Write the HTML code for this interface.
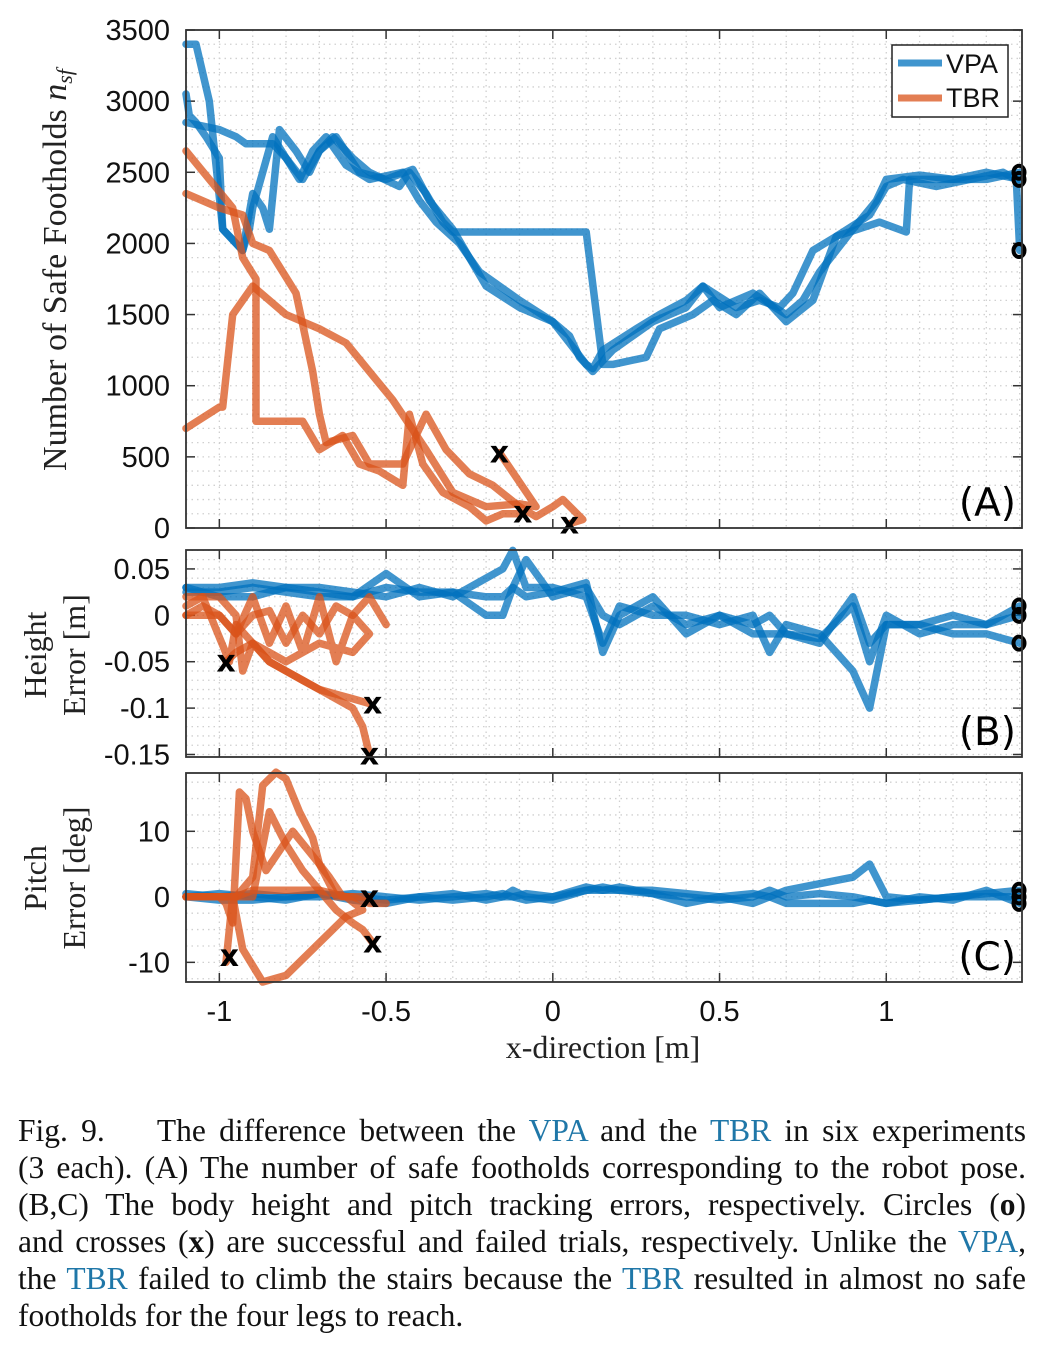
<!DOCTYPE html>
<html><head><meta charset="utf-8">
<style>
body{margin:0;background:#fff;width:1059px;height:1350px;overflow:hidden;position:relative}
svg{position:absolute;left:0;top:0}
#cap{position:absolute;left:18px;top:1112px;width:1008px;font-family:"Liberation Serif",serif;font-size:31.5px;line-height:37px;color:#111}
#cap div{text-align:justify;text-align-last:justify;white-space:nowrap}
#cap div.last{text-align-last:left}
#cap .c{color:#1f77a8}
</style></head><body>
<svg id="chart" width="1059" height="1100" xmlns="http://www.w3.org/2000/svg"></svg>
<div id="cap">
<div>Fig. 9.&nbsp;&nbsp;&nbsp; The difference between the <span class="c">VPA</span> and the <span class="c">TBR</span> in six experiments</div>
<div>(3 each). (A) The number of safe footholds corresponding to the robot pose.</div>
<div>(B,C) The body height and pitch tracking errors, respectively. Circles (<b>o</b>)</div>
<div>and crosses (<b>x</b>) are successful and failed trials, respectively. Unlike the <span class="c">VPA</span>,</div>
<div>the <span class="c">TBR</span> failed to climb the stairs because the <span class="c">TBR</span> resulted in almost no safe</div>
<div class="last">footholds for the four legs to reach.</div>
</div>
<script>
// ---- Panel A data ----
const vpaA1x=[-1.1,-1.07,-1.03,-0.99,-0.93,-0.91,-0.9,-0.87,-0.84,-0.76,-0.72,-0.68,-0.62,-0.55,-0.45,-0.4,-0.35,-0.28,-0.22,-0.1,0.0,0.05,0.1,0.12,0.15,0.25,0.32,0.4,0.45,0.5,0.6,0.7,0.75,0.8,0.9,0.97,1.0,1.1,1.2,1.3,1.4];
const vpaA1y=[3400,3400,3000,2100,1950,2100,2250,2500,2750,2450,2650,2750,2550,2450,2500,2300,2150,2000,1800,1600,1450,1300,1150,1120,1250,1400,1500,1600,1700,1550,1650,1500,1600,1800,2100,2300,2450,2480,2450,2500,2450];
const vpaA2x=[-1.1,-1.0,-0.95,-0.92,-0.84,-0.8,-0.75,-0.7,-0.65,-0.58,-0.5,-0.42,-0.37,-0.3,-0.25,-0.2,-0.1,0.0,0.05,0.08,0.12,0.18,0.3,0.4,0.45,0.55,0.62,0.68,0.72,0.78,0.85,0.95,1.0,1.05,1.15,1.25,1.35,1.39,1.4];
const vpaA2y=[2850,2800,2750,2700,2700,2600,2450,2650,2750,2500,2450,2520,2300,2100,1900,1700,1550,1450,1350,1200,1100,1250,1450,1550,1700,1550,1600,1550,1650,1950,2050,2200,2400,2450,2400,2450,2500,2450,1950];
const vpaA3x=[-1.1,-1.09,-1.07,-1.04,-1.0,-0.99,-0.93,-0.9,-0.87,-0.85,-0.82,-0.77,-0.73,-0.7,-0.66,-0.6,-0.55,-0.46,-0.43,-0.38,-0.33,-0.3,-0.1,0.1,0.15,0.18,0.28,0.32,0.42,0.48,0.55,0.62,0.7,0.78,0.85,0.98,1.06,1.07,1.1,1.2,1.3,1.4];
const vpaA3y=[3050,2900,2850,2750,2600,2100,1950,2350,2250,2100,2800,2650,2500,2650,2750,2600,2500,2400,2500,2350,2150,2080,2080,2080,1150,1150,1200,1400,1500,1600,1500,1650,1450,1600,2050,2150,2080,2450,2450,2450,2450,2500];
const tbrA1x=[-1.1,-1.0,-0.99,-0.96,-0.9,-0.8,-0.7,-0.62,-0.55,-0.48,-0.38,-0.3,-0.2,-0.1,-0.05,-0.16];
const tbrA1y=[700,850,850,1500,1700,1500,1400,1300,1100,900,550,250,150,170,150,530];
const tbrA2x=[-1.1,-1.0,-0.93,-0.9,-0.85,-0.77,-0.72,-0.7,-0.68,-0.6,-0.55,-0.45,-0.38,-0.32,-0.25,-0.18,-0.1,-0.05,0.0,0.03,0.09,0.05];
const tbrA2y=[2350,2250,2200,2000,1950,1650,1100,800,600,650,450,450,800,550,380,300,150,80,150,200,60,30];
const tbrA3x=[-1.1,-0.96,-0.93,-0.89,-0.89,-0.75,-0.7,-0.63,-0.58,-0.52,-0.45,-0.43,-0.39,-0.33,-0.25,-0.2,-0.15,-0.09];
const tbrA3y=[2650,2250,1900,1750,750,750,550,650,450,400,300,800,450,250,150,50,100,100];
// ---- Panel B data ----
const gridX=[-1.1,-1.0,-0.9,-0.8,-0.7,-0.6,-0.5,-0.4,-0.3,-0.2,-0.15,-0.12,-0.08,0.0,0.1,0.15,0.2,0.3,0.4,0.5,0.6,0.65,0.7,0.8,0.9,0.95,1.0,1.1,1.2,1.3,1.4];
const vpaB1y=[0.03,0.03,0.035,0.03,0.03,0.025,0.02,0.03,0.02,0.04,0.05,0.07,0.03,0.03,0.02,-0.03,0.01,0.0,0.0,-0.01,0.0,-0.04,-0.01,-0.02,-0.06,-0.1,-0.01,-0.01,0.0,-0.01,0.01];
const vpaB2y=[0.025,0.025,0.03,0.025,0.02,0.02,0.045,0.02,0.025,0.0,0.0,0.03,0.06,0.02,0.03,0.0,-0.01,0.01,-0.01,0.0,-0.01,0.0,-0.02,-0.025,0.01,-0.05,0.0,-0.02,-0.01,-0.01,0.0];
const vpaB3y=[0.03,0.02,0.02,0.03,0.025,0.02,0.03,0.025,0.025,0.02,0.02,0.03,0.02,0.025,0.035,-0.04,0.0,0.02,-0.02,0.0,-0.02,-0.02,-0.02,-0.03,0.02,-0.03,-0.01,-0.01,-0.02,-0.02,-0.03];
const tbrB1x=[-1.1,-1.05,-1.0,-0.95,-0.9,-0.85,-0.8,-0.75,-0.7,-0.65,-0.6,-0.55,-0.5];
const tbrB1y=[0.0,0.01,0.0,-0.02,0.0,0.005,-0.03,0.0,-0.02,0.01,0.0,0.02,-0.01];
const tbrB2x=[-1.1,-1.0,-0.95,-0.93,-0.9,-0.85,-0.8,-0.75,-0.7,-0.65,-0.6,-0.57,-0.55];
const tbrB2y=[0.02,0.02,0.0,-0.06,-0.03,-0.05,-0.06,-0.07,-0.08,-0.09,-0.1,-0.12,-0.15];
const tbrB3x=[-1.1,-1.05,-0.97,-0.95,-0.9,-0.85,-0.8,-0.75,-0.7,-0.65,-0.6,-0.55];
const tbrB3y=[0.01,0.02,-0.05,-0.01,-0.03,-0.05,-0.06,-0.07,-0.08,-0.085,-0.09,-0.095];
const tbrB4x=[-1.1,-1.0,-0.95,-0.9,-0.85,-0.8,-0.75,-0.7,-0.65,-0.6,-0.55,-0.6,-0.7,-0.8,-0.9,-0.95,-0.98];
const tbrB4y=[0.0,0.0,-0.02,0.02,-0.03,0.01,-0.04,0.02,-0.05,0.0,-0.02,-0.04,-0.03,-0.05,-0.03,-0.04,-0.05];
// ---- Panel C data ----
const vpaC1y=[0,0.5,0,-0.5,0.5,0,-0.5,0,0.5,-0.5,0,1,0,-0.5,1,1.5,1,1,0.5,0,-1,0,1,2,3,5,0,-0.5,0,0.5,1];
const vpaC2y=[0.5,0,0.5,0,0,0.5,0,-0.5,0,0.5,0,0,-0.5,0,1.5,1,1.5,0.5,0,-0.5,0,1,0,0.5,0,-0.5,-1,-0.5,0,0,0];
const vpaC3y=[0,-0.5,-0.5,0,0.5,-0.5,-1,0,-0.5,0,0.5,0,0.5,0,1,1,1,0.5,-1,0,0.5,0,-1,-1,-1,-0.5,-1,0,-0.5,1,-1];
const tbrC1x=[-1.1,-0.95,-0.9,-0.87,-0.83,-0.8,-0.76,-0.72,-0.7,-0.67,-0.63,-0.6,-0.55,-0.5];
const tbrC1y=[0,0,3,17,19,18,13,9,5,3,0,0,-1,-1];
const tbrC2x=[-1.1,-1.0,-0.98,-0.96,-0.94,-0.92,-0.9,-0.86,-0.78,-0.7,-0.65,-0.6,-0.55];
const tbrC2y=[0,0,-1,-4,16,15,10,4,10,5,0,0,0];
const tbrC3x=[-1.1,-0.95,-0.9,-0.7,-0.62,-0.57,-0.62,-0.7,-0.8,-0.87,-0.93,-0.96,-0.98,-0.97];
const tbrC3y=[0,0,1,1,0,-2,-3,-7,-12,-13,-8,0,-10,-9];
const tbrC4x=[-1.1,-0.9,-0.85,-0.8,-0.75,-0.7,-0.65,-0.6,-0.57,-0.54];
const tbrC4y=[0,0,13,8,4,1,-2,-4,-5,-7];
// ticks
const xTicks=[-1,-0.5,0,0.5,1];
const xTickLabels=["-1","-0.5","0","0.5","1"];
const aTicks=[0,500,1000,1500,2000,2500,3000,3500];
const bTicks=[-0.15,-0.1,-0.05,0,0.05];
const bTickLabels=["-0.15","-0.1","-0.05","0","0.05"];
const cTicks=[-10,0,10];
// end markers
const aFails=[[-0.16,530],[-0.09,110],[0.05,30]];
const aSucc=[2450,2500,1950];
const bFails=[[-0.98,-0.05],[-0.54,-0.095],[-0.55,-0.15]];
const bSucc=[0.01,0,-0.03];
const cFails=[[-0.97,-9],[-0.55,0],[-0.54,-7]];
const cSucc=[1,0,-1];

const NS="http://www.w3.org/2000/svg";
const svg=document.getElementById('chart');
const L=186,R=1022,X0=-1.1,X1=1.407;
const sx=v=>L+(v-X0)/(X1-X0)*(R-L);
function mk(tag,attrs,parent){const e=document.createElementNS(NS,tag);for(const k in attrs)e.setAttribute(k,attrs[k]);(parent||svg).appendChild(e);return e;}
const BLUE='#0072BD',ORANGE='#D95319';
const panels=[
 {id:'a',top:30,bot:528,y0:0,y1:3500,minor:100},
 {id:'b',top:550,bot:757,y0:-0.1527,y1:0.0704,minor:0.01},
 {id:'c',top:773,bot:982,y0:-13,y1:18.9,minor:2.5}];
function sy(p,v){return p.bot-(v-p.y0)/(p.y1-p.y0)*(p.bot-p.top);}
function drawPanel(p,yt,ylab){
 const g=mk('g',{});
 
 
 for(let x=-1.1;x<=1.41;x+=0.1){const px=sx(x);mk('line',{x1:px,x2:px,y1:p.top,y2:p.bot,stroke:'#d0d0d0','stroke-width':1.3,'stroke-dasharray':'1.5 4'},g);}
 for(let v=Math.ceil(p.y0/p.minor)*p.minor;v<=p.y1;v+=p.minor){const py=sy(p,v);mk('line',{x1:L,x2:R,y1:py,y2:py,stroke:'#d0d0d0','stroke-width':1.3,'stroke-dasharray':'1.5 4'},g);}
 for(const v of xTicks){const px=sx(v);mk('line',{x1:px,x2:px,y1:p.bot,y2:p.bot-9,stroke:'#333','stroke-width':1.5},g);mk('line',{x1:px,x2:px,y1:p.top,y2:p.top+9,stroke:'#333','stroke-width':1.5},g);}
 yt.forEach((v,i)=>{const py=sy(p,v);mk('line',{x1:L,x2:L+9,y1:py,y2:py,stroke:'#333','stroke-width':1.5},g);mk('line',{x1:R,x2:R-9,y1:py,y2:py,stroke:'#333','stroke-width':1.5},g);
  const t=mk('text',{x:L-16,y:py+10,'text-anchor':'end','font-family':'Liberation Sans, sans-serif','font-size':29,fill:'#111'},g);t.textContent=ylab[i];
  });
 return g;
}
function line(p,xs,ys,color,name){
 const pts=xs.map((x,i)=>sx(x).toFixed(1)+','+sy(p,ys[i]).toFixed(1)).join(' ');
 const e=mk('polyline',{points:pts,fill:'none',stroke:color,'stroke-width':7.5,'stroke-opacity':0.75,'stroke-linejoin':'round','stroke-linecap':'round'});
 
 
}
function cross(p,x,y){const t=mk('text',{x:sx(x),y:sy(p,y)+10,'text-anchor':'middle','font-family':'DejaVu Sans, sans-serif','font-size':30,'font-weight':'bold',fill:'#000'});t.textContent='x';
 }
function circ(p,y){const c=mk('ellipse',{cx:1019,cy:sy(p,y),rx:5.5,ry:6.5,fill:'none',stroke:'#000','stroke-width':4});
 }
function frame(p){const r=mk('rect',{x:L,y:p.top,width:R-L,height:p.bot-p.top,fill:'none',stroke:'#333','stroke-width':1.8});
 }
function panelLabel(p,txt){const t=mk('text',{x:1016,y:p.bot-12,'text-anchor':'end','font-family':'DejaVu Sans, sans-serif','font-size':39,fill:'#000'});t.textContent=txt;
 }

const [A,B,C]=panels;
drawPanel(A,aTicks,aTicks.map(String));
drawPanel(B,bTicks,bTickLabels);
drawPanel(C,cTicks,cTicks.map(String));
line(A,vpaA1x,vpaA1y,BLUE,'vpa-line-1');line(A,vpaA2x,vpaA2y,BLUE,'vpa-line-2');line(A,vpaA3x,vpaA3y,BLUE,'vpa-line-3');
line(A,tbrA1x,tbrA1y,ORANGE,'tbr-line-1');line(A,tbrA2x,tbrA2y,ORANGE,'tbr-line-2');line(A,tbrA3x,tbrA3y,ORANGE,'tbr-line-3');
aFails.forEach(f=>cross(A,f[0],f[1]));aSucc.forEach(v=>circ(A,v));
line(B,gridX,vpaB1y,BLUE,'vpa-height-1');line(B,gridX,vpaB2y,BLUE,'vpa-height-2');line(B,gridX,vpaB3y,BLUE,'vpa-height-3');
line(B,tbrB1x,tbrB1y,ORANGE,'tbr-height-1');line(B,tbrB2x,tbrB2y,ORANGE,'tbr-height-2');line(B,tbrB3x,tbrB3y,ORANGE,'tbr-height-3');line(B,tbrB4x,tbrB4y,ORANGE,'tbr-height-4');
bFails.forEach(f=>cross(B,f[0],f[1]));bSucc.forEach(v=>circ(B,v));
line(C,gridX,vpaC1y,BLUE,'vpa-pitch-1');line(C,gridX,vpaC2y,BLUE,'vpa-pitch-2');line(C,gridX,vpaC3y,BLUE,'vpa-pitch-3');
line(C,tbrC1x,tbrC1y,ORANGE,'tbr-pitch-1');line(C,tbrC2x,tbrC2y,ORANGE,'tbr-pitch-2');line(C,tbrC3x,tbrC3y,ORANGE,'tbr-pitch-3');line(C,tbrC4x,tbrC4y,ORANGE,'tbr-pitch-4');
cFails.forEach(f=>cross(C,f[0],f[1]));cSucc.forEach(v=>circ(C,v));
panels.forEach(frame);
panelLabel(A,'(A)');panelLabel(B,'(B)');panelLabel(C,'(C)');
xTicks.forEach((v,i)=>{const t=mk('text',{x:sx(v),y:1021,'text-anchor':'middle','font-family':'Liberation Sans, sans-serif','font-size':29,fill:'#111'});t.textContent=xTickLabels[i];
 });
function title(x,y,rot,txt,name,fs){const t=mk('text',{x:x,y:y,'text-anchor':'middle','font-family':'Liberation Serif, serif','font-size':fs||32,fill:'#222',transform:rot?`rotate(-90 ${x} ${y})`:''});t.innerHTML=txt;
 }
title(603,1058,false,'x-direction [m]','x-axis-title');
title(66,270,true,'Number of Safe Footholds <tspan font-style="italic">n</tspan><tspan font-style="italic" font-size="22" dy="6">sf</tspan>','y-axis-title-a',34);
title(46,655,true,'Height','y-axis-title-b1');
title(85,655,true,'Error [m]','y-axis-title-b2');
title(46,878,true,'Pitch','y-axis-title-c1');
title(85,878,true,'Error [deg]','y-axis-title-c2');
const lg=mk('g',{});


mk('rect',{x:892,y:45,width:116,height:72,fill:'#fff',stroke:'#222','stroke-width':1.5},lg);
mk('line',{x1:898,x2:942,y1:63,y2:63,stroke:BLUE,'stroke-width':7,'stroke-opacity':0.75},lg);
mk('line',{x1:898,x2:942,y1:98,y2:98,stroke:ORANGE,'stroke-width':7,'stroke-opacity':0.75},lg);
const t1=mk('text',{x:946,y:73,'font-family':'Liberation Sans, sans-serif','font-size':27,fill:'#111'},lg);t1.textContent='VPA';

const t2=mk('text',{x:946,y:107,'font-family':'Liberation Sans, sans-serif','font-size':27,fill:'#111'},lg);t2.textContent='TBR';

</script>
</body></html>
